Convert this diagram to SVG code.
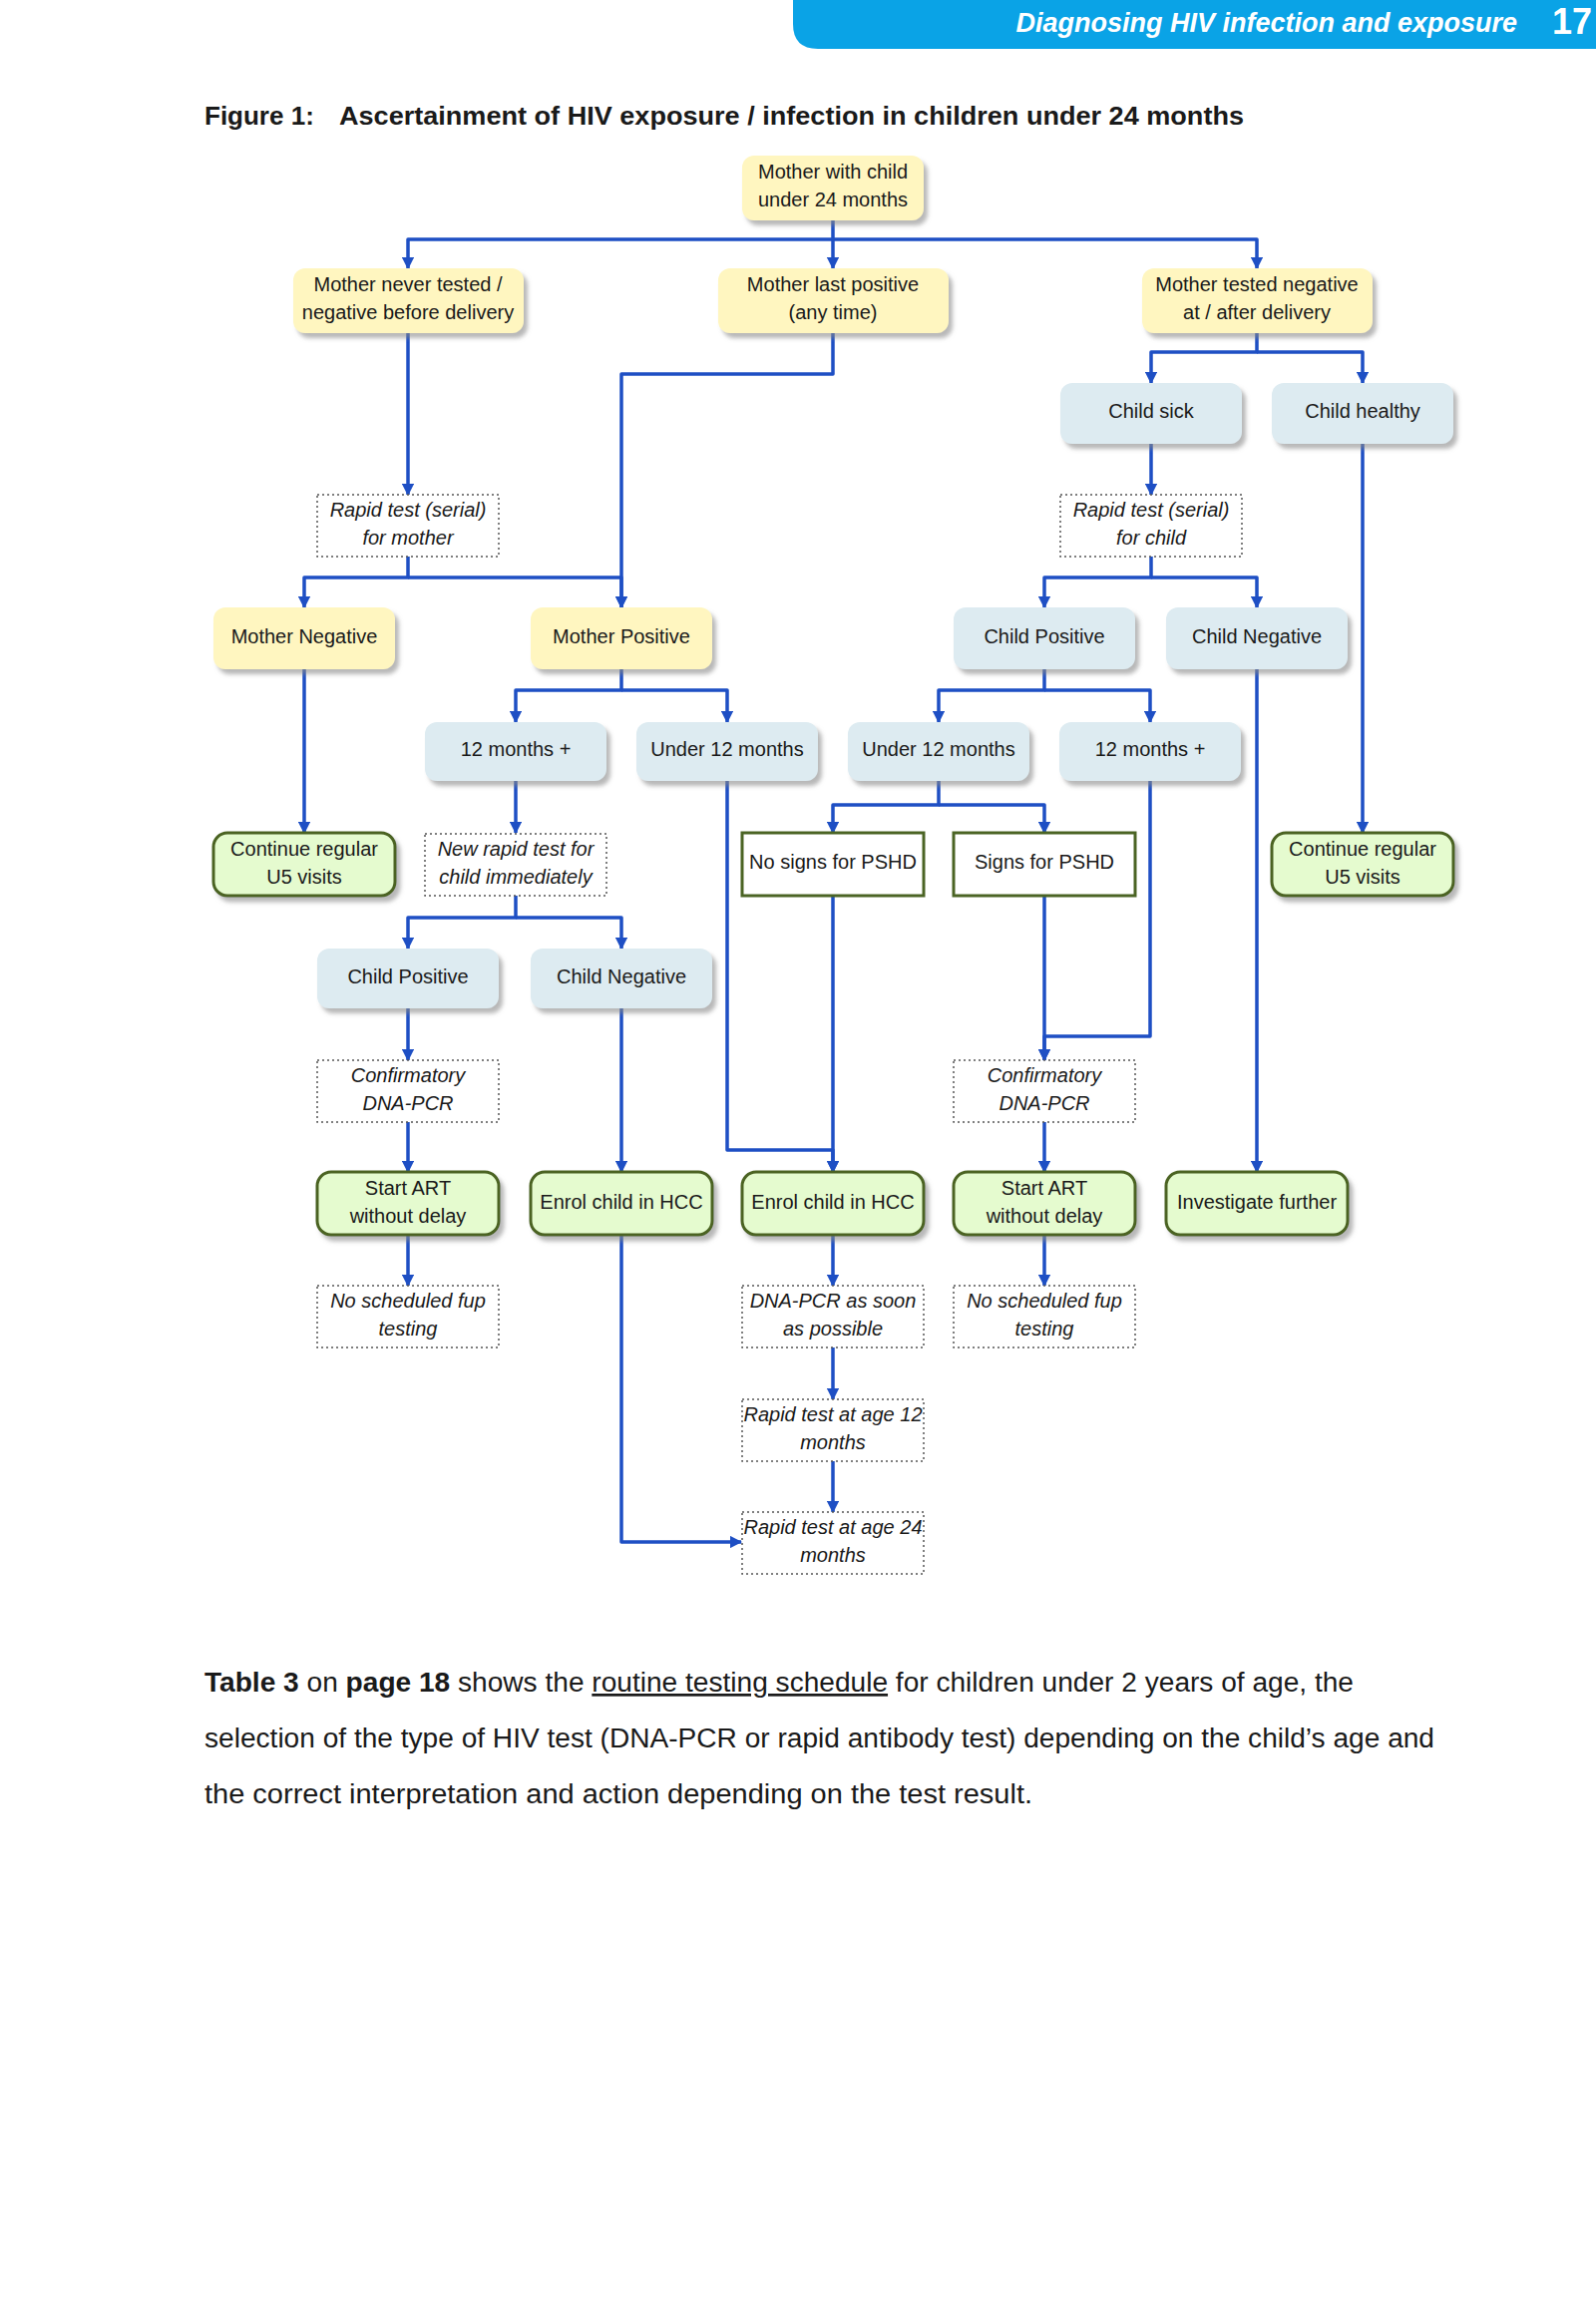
<svg xmlns="http://www.w3.org/2000/svg" width="1600" height="2309" viewBox="0 0 1600 2309">
<style>
text{font-family:"Liberation Sans",Arial,sans-serif;fill:#1a1a1a}
.n text{font-size:20px;text-anchor:middle;dominant-baseline:middle}
.i text{font-style:italic}
.y{fill:#FFF6C0;filter:url(#sh)}
.b{fill:#DDEBF1;filter:url(#sh)}
.g{fill:#E5FBCF;stroke:#4B6424;stroke-width:3;filter:url(#sh)}
.s{fill:#fff;stroke:#4B6424;stroke-width:3}
.d{fill:#fff;stroke:#555;stroke-width:1.5;stroke-dasharray:2 3}
.c path{fill:none;stroke:#1E4FC4;stroke-width:3.5;stroke-linejoin:round;marker-end:url(#ar)}
.p{font-size:27px}
</style>
<defs>
<filter id="sh" x="-10%" y="-10%" width="130%" height="140%"><feDropShadow dx="4" dy="5" stdDeviation="2" flood-color="#888" flood-opacity="0.6"/></filter>
<marker id="ar" viewBox="0 0 10 10" refX="9" refY="5" markerWidth="3.5" markerHeight="3.5" orient="auto"><path d="M0,0 L10,5 L0,10 z" fill="#1E4FC4"/></marker>
</defs>
<rect width="1600" height="2309" fill="#fff"/>
<path d="M795,0 H1600 V49 H820 Q795,49 795,24 Z" fill="#0AA3E6"/>
<text x="1521" y="32" font-size="27" font-weight="bold" font-style="italic" text-anchor="end" style="fill:#fff">Diagnosing HIV infection and exposure</text>
<text x="1556" y="34" font-size="36" font-weight="bold" style="fill:#fff">17</text>
<text x="205" y="125" font-size="26" font-weight="bold">Figure 1:</text>
<text x="340" y="125" font-size="26" font-weight="bold" textLength="907" lengthAdjust="spacingAndGlyphs">Ascertainment of HIV exposure / infection in children under 24 months</text>

<g class="c">
<path d="M835,221 V240 H409 V269"/><path d="M835,240 V269"/><path d="M835,240 H1260 V269"/>
<path d="M409,334 V496"/>
<path d="M835,334 V375 H623 V609"/>
<path d="M1260,334 V353 H1154 V384"/><path d="M1260,353 H1366 V384"/>
<path d="M1154,445 V496"/>
<path d="M409,558 V579 H305 V609"/><path d="M409,579 H623 V609"/>
<path d="M1154,558 V579 H1047 V609"/><path d="M1154,579 H1260 V609"/>
<path d="M305,671 V835"/>
<path d="M623,671 V692 H517 V724"/><path d="M623,692 H729 V724"/>
<path d="M1047,671 V692 H941 V724"/><path d="M1047,692 H1153 V724"/>
<path d="M1260,671 V1175"/>
<path d="M1366,445 V835"/>
<path d="M517,783 V835"/>
<path d="M729,783 V1153 H835 V1175"/>
<path d="M941,783 V807 H835 V835"/><path d="M941,807 H1047 V835"/>
<path d="M1153,783 V1039 H1047 V1063"/>
<path d="M517,898 V920 H409 V951"/><path d="M517,920 H623 V951"/>
<path d="M835,898 V1175"/>
<path d="M1047,898 V1063"/>
<path d="M409,1011 V1063"/>
<path d="M623,1011 V1175"/>
<path d="M409,1125 V1175"/><path d="M1047,1125 V1175"/>
<path d="M409,1238 V1289"/><path d="M835,1238 V1289"/><path d="M1047,1238 V1289"/>
<path d="M835,1351 V1403"/><path d="M835,1465 V1516"/>
<path d="M623,1238 V1546 H743"/>
</g>

<g id="root" class="n"><rect class="y" x="744" y="156" width="182" height="65" rx="12"/><text x="835" y="174">Mother with child</text><text x="835" y="202">under 24 months</text></g>
<g id="never" class="n"><rect class="y" x="294" y="269" width="231" height="65" rx="12"/><text x="409" y="287">Mother never tested /</text><text x="409" y="315">negative before delivery</text></g>
<g id="lastpos" class="n"><rect class="y" x="720" y="269" width="231" height="65" rx="12"/><text x="835" y="287">Mother last positive</text><text x="835" y="315">(any time)</text></g>
<g id="testedneg" class="n"><rect class="y" x="1145" y="269" width="231" height="65" rx="12"/><text x="1260" y="287">Mother tested negative</text><text x="1260" y="315">at / after delivery</text></g>
<g id="sick" class="n"><rect class="b" x="1063" y="384" width="182" height="61" rx="12"/><text x="1154" y="414">Child sick</text></g>
<g id="healthy" class="n"><rect class="b" x="1275" y="384" width="182" height="61" rx="12"/><text x="1366" y="414">Child healthy</text></g>
<g id="rtm" class="n i"><rect class="d" x="318" y="496" width="182" height="62"/><text x="409" y="513">Rapid test (serial)</text><text x="409" y="541">for mother</text></g>
<g id="rtc" class="n i"><rect class="d" x="1063" y="496" width="182" height="62"/><text x="1154" y="513">Rapid test (serial)</text><text x="1154" y="541">for child</text></g>
<g id="mneg" class="n"><rect class="y" x="214" y="609" width="182" height="62" rx="12"/><text x="305" y="640">Mother Negative</text></g>
<g id="mpos" class="n"><rect class="y" x="532" y="609" width="182" height="62" rx="12"/><text x="623" y="640">Mother Positive</text></g>
<g id="cpos1" class="n"><rect class="b" x="956" y="609" width="182" height="62" rx="12"/><text x="1047" y="640">Child Positive</text></g>
<g id="cneg1" class="n"><rect class="b" x="1169" y="609" width="182" height="62" rx="12"/><text x="1260" y="640">Child Negative</text></g>
<g id="m12a" class="n"><rect class="b" x="426" y="724" width="182" height="59" rx="12"/><text x="517" y="753">12 months +</text></g>
<g id="u12a" class="n"><rect class="b" x="638" y="724" width="182" height="59" rx="12"/><text x="729" y="753">Under 12 months</text></g>
<g id="u12b" class="n"><rect class="b" x="850" y="724" width="182" height="59" rx="12"/><text x="941" y="753">Under 12 months</text></g>
<g id="m12b" class="n"><rect class="b" x="1062" y="724" width="182" height="59" rx="12"/><text x="1153" y="753">12 months +</text></g>
<g id="cont1" class="n"><rect class="g" x="214" y="835" width="182" height="63" rx="14"/><text x="305" y="853">Continue regular</text><text x="305" y="881">U5 visits</text></g>
<g id="newrapid" class="n i"><rect class="d" x="426" y="836" width="182" height="62"/><text x="517" y="853">New rapid test for</text><text x="517" y="881">child immediately</text></g>
<g id="nosigns" class="n"><rect class="s" x="744" y="835" width="182" height="63"/><text x="835" y="866">No signs for PSHD</text></g>
<g id="signs" class="n"><rect class="s" x="956" y="835" width="182" height="63"/><text x="1047" y="866">Signs for PSHD</text></g>
<g id="cont2" class="n"><rect class="g" x="1275" y="835" width="182" height="63" rx="14"/><text x="1366" y="853">Continue regular</text><text x="1366" y="881">U5 visits</text></g>
<g id="cpos2" class="n"><rect class="b" x="318" y="951" width="182" height="60" rx="12"/><text x="409" y="981">Child Positive</text></g>
<g id="cneg2" class="n"><rect class="b" x="532" y="951" width="182" height="60" rx="12"/><text x="623" y="981">Child Negative</text></g>
<g id="conf1" class="n i"><rect class="d" x="318" y="1063" width="182" height="62"/><text x="409" y="1080">Confirmatory</text><text x="409" y="1108">DNA-PCR</text></g>
<g id="conf2" class="n i"><rect class="d" x="956" y="1063" width="182" height="62"/><text x="1047" y="1080">Confirmatory</text><text x="1047" y="1108">DNA-PCR</text></g>
<g id="art1" class="n"><rect class="g" x="318" y="1175" width="182" height="63" rx="14"/><text x="409" y="1193">Start ART</text><text x="409" y="1221">without delay</text></g>
<g id="hcc1" class="n"><rect class="g" x="532" y="1175" width="182" height="63" rx="14"/><text x="623" y="1207">Enrol child in HCC</text></g>
<g id="hcc2" class="n"><rect class="g" x="744" y="1175" width="182" height="63" rx="14"/><text x="835" y="1207">Enrol child in HCC</text></g>
<g id="art2" class="n"><rect class="g" x="956" y="1175" width="182" height="63" rx="14"/><text x="1047" y="1193">Start ART</text><text x="1047" y="1221">without delay</text></g>
<g id="invest" class="n"><rect class="g" x="1169" y="1175" width="182" height="63" rx="14"/><text x="1260" y="1207">Investigate further</text></g>
<g id="nofup1" class="n i"><rect class="d" x="318" y="1289" width="182" height="62"/><text x="409" y="1306">No scheduled fup</text><text x="409" y="1334">testing</text></g>
<g id="dnapcr" class="n i"><rect class="d" x="744" y="1289" width="182" height="62"/><text x="835" y="1306">DNA-PCR as soon</text><text x="835" y="1334">as possible</text></g>
<g id="nofup2" class="n i"><rect class="d" x="956" y="1289" width="182" height="62"/><text x="1047" y="1306">No scheduled fup</text><text x="1047" y="1334">testing</text></g>
<g id="rt12" class="n i"><rect class="d" x="744" y="1403" width="182" height="62"/><text x="835" y="1420">Rapid test at age 12</text><text x="835" y="1448">months</text></g>
<g id="rt24" class="n i"><rect class="d" x="744" y="1516" width="182" height="62"/><text x="835" y="1533">Rapid test at age 24</text><text x="835" y="1561">months</text></g>

<text class="p" x="205" y="1696" textLength="1152" lengthAdjust="spacingAndGlyphs"><tspan font-weight="bold">Table 3</tspan> on <tspan font-weight="bold">page 18</tspan> shows the <tspan text-decoration="underline">routine testing schedule</tspan> for children under 2 years of age, the</text>
<text class="p" x="205" y="1752" textLength="1233" lengthAdjust="spacingAndGlyphs">selection of the type of HIV test (DNA-PCR or rapid antibody test) depending on the child’s age and</text>
<text class="p" x="205" y="1808" textLength="830" lengthAdjust="spacingAndGlyphs">the correct interpretation and action depending on the test result.</text>
</svg>
